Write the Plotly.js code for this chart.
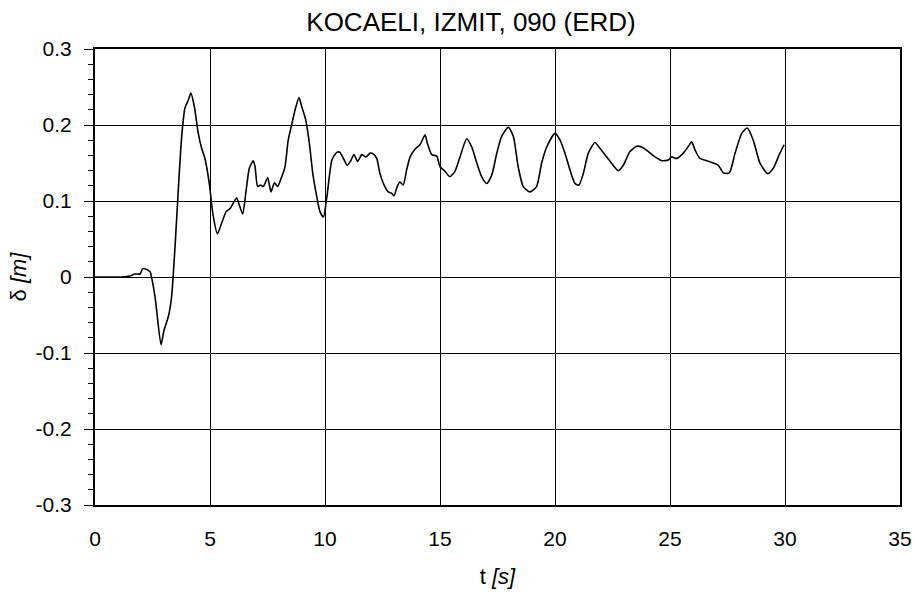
<!DOCTYPE html>
<html>
<head>
<meta charset="utf-8">
<script src="https://cdn.plot.ly/plotly-3.0.1.min.js"></script>
<style>
  html, body { margin: 0; padding: 0; background: #ffffff; }
  #chart { width: 915px; height: 596px; }
</style>
</head>
<body>
<div id="chart"></div>
<script>
// Displacement time history, Kocaeli earthquake, Izmit station, 090 component
const timeS = [
  0, 1.16, 1.52, 1.74, 1.96, 2.07, 2.25, 2.39, 2.61, 2.87, 3.0, 3.19, 3.33, 3.48, 3.62, 3.77, 3.91,
  4.06, 4.17, 4.32, 4.49, 4.64, 4.78, 4.97, 5.12, 5.32, 5.51, 5.70, 5.87, 6.01, 6.16, 6.27, 6.42,
  6.57, 6.71, 6.88, 6.96, 7.07, 7.20, 7.32, 7.39, 7.51, 7.65, 7.80, 7.94, 8.12, 8.26, 8.40, 8.55,
  8.70, 8.87, 8.99, 9.16, 9.32, 9.47, 9.64, 9.78, 9.93, 10.08, 10.2, 10.3, 10.51, 10.65, 10.80,
  10.97, 11.12, 11.26, 11.42, 11.60, 11.78, 11.96, 12.10, 12.25, 12.39, 12.57, 12.75, 12.90, 13.0,
  13.14, 13.26, 13.40, 13.55, 13.70, 13.91, 14.13, 14.35, 14.45, 14.64, 14.86, 15.0, 15.22, 15.43,
  15.65, 15.87, 16.16, 16.38, 16.60, 16.81, 17.03, 17.25, 17.47, 17.68, 17.97, 18.19, 18.40, 18.62,
  18.91, 19.20, 19.42, 19.64, 20.0, 20.22, 20.43, 20.65, 20.87, 21.04, 21.23, 21.45, 21.74, 21.96,
  22.25, 22.53, 22.75, 22.97, 23.26, 23.55, 23.77, 24.06, 24.35, 24.64, 24.93, 25.07, 25.29, 25.58,
  25.80, 25.94, 26.09, 26.30, 26.60, 26.88, 27.10, 27.32, 27.58, 27.83, 28.12, 28.36, 28.62, 28.91,
  29.25, 29.49, 29.75, 29.96
];
const displacementM = [
  0, 0, 0.0013, 0.004, 0.004, 0.011, 0.010, 0.007, -0.026, -0.089, -0.070, -0.052, -0.026, 0.040, 0.114, 0.185, 0.222,
  0.233, 0.242, 0.224, 0.189, 0.169, 0.156, 0.123, 0.084, 0.057, 0.071, 0.086, 0.090, 0.097, 0.104, 0.095, 0.083,
  0.114, 0.143, 0.153, 0.145, 0.119, 0.121, 0.119, 0.123, 0.131, 0.112, 0.124, 0.119, 0.132, 0.145, 0.180, 0.200,
  0.220, 0.236, 0.224, 0.207, 0.176, 0.136, 0.106, 0.086, 0.079, 0.105, 0.135, 0.154, 0.164, 0.164, 0.156,
  0.147, 0.153, 0.161, 0.152, 0.161, 0.158, 0.163, 0.162, 0.156, 0.136, 0.121, 0.112, 0.110, 0.107,
  0.119, 0.125, 0.121, 0.141, 0.158, 0.168, 0.174, 0.187, 0.176, 0.161, 0.159, 0.145, 0.139, 0.132,
  0.139, 0.158, 0.182, 0.171, 0.150, 0.132, 0.123, 0.134, 0.163, 0.185, 0.197, 0.185, 0.145, 0.119,
  0.112, 0.119, 0.150, 0.171, 0.189, 0.180, 0.163, 0.141, 0.123, 0.121, 0.136, 0.163, 0.177, 0.169,
  0.158, 0.147, 0.140, 0.147, 0.165, 0.172, 0.171, 0.165, 0.158, 0.153, 0.154, 0.158, 0.156, 0.163,
  0.172, 0.178, 0.167, 0.156, 0.153, 0.150, 0.147, 0.137, 0.137, 0.163, 0.189, 0.196, 0.180, 0.150,
  0.136, 0.143, 0.161, 0.174
];

const xTickVals = [0, 5, 10, 15, 20, 25, 30, 35];
const xTickText = ['0', '5', '10', '15', '20', '25', '30', '35'];
const yTickVals = [0.3, 0.2, 0.1, 0, -0.1, -0.2, -0.3];
const yTickText = ['0.3', '0.2', '0.1', '0', '-0.1', '-0.2', '-0.3'];

const chartTitle = 'KOCAELI, IZMIT, 090 (ERD)';
const xTitle = 't <i>[s]</i>';
const yTitle = '\u03b4 <i>[m]</i>';

const FONT = 'Liberation Sans, Arial, sans-serif';

const trace = {
  x: timeS,
  y: displacementM,
  type: 'scatter',
  mode: 'lines',
  line: { color: '#000000', width: 1.6, shape: 'spline', smoothing: 0.6 },
  hoverinfo: 'skip',
  showlegend: false
};

const layout = {
  width: 915,
  height: 596,
  margin: { l: 95, r: 15, t: 49, b: 91, pad: 0 },
  paper_bgcolor: '#ffffff',
  plot_bgcolor: '#ffffff',
  font: { family: FONT, size: 21, color: '#000000' },
  title: {
    text: chartTitle,
    font: { family: FONT, size: 26, color: '#000000' },
    x: 471 / 915,
    xanchor: 'center',
    xref: 'container',
    y: 1 - 22 / 596,
    yanchor: 'middle',
    yref: 'container'
  },
  xaxis: {
    range: [0, 35],
    tickmode: 'array',
    tickvals: xTickVals,
    ticktext: xTickText,
    ticks: '',
    ticklabelstandoff: 14,
    showgrid: true,
    gridcolor: '#000000',
    gridwidth: 1,
    zeroline: false,
    showline: true,
    linecolor: '#000000',
    linewidth: 2,
    mirror: true,
    tickfont: { family: FONT, size: 21 },
    title: { text: xTitle, font: { family: FONT, size: 22 }, standoff: 19 },
    fixedrange: true
  },
  yaxis: {
    range: [-0.3, 0.3],
    tickmode: 'array',
    tickvals: yTickVals,
    ticktext: yTickText,
    ticks: 'outside',
    ticklen: 9,
    tickwidth: 1,
    tickcolor: '#000000',
    ticklabelstandoff: 8,
    minor: {
      tickmode: 'linear',
      tick0: 0,
      dtick: 0.02,
      ticks: 'outside',
      ticklen: 5,
      tickwidth: 1,
      tickcolor: '#000000',
      showgrid: false
    },
    showgrid: true,
    gridcolor: '#000000',
    gridwidth: 1,
    zeroline: false,
    showline: true,
    linecolor: '#000000',
    linewidth: 2,
    mirror: true,
    tickfont: { family: FONT, size: 21 },
    title: { text: yTitle, font: { family: FONT, size: 22 }, standoff: 3 },
    fixedrange: true
  }
};

Plotly.newPlot('chart', [trace], layout, { displayModeBar: false, staticPlot: true });
</script>
</body>
</html>
